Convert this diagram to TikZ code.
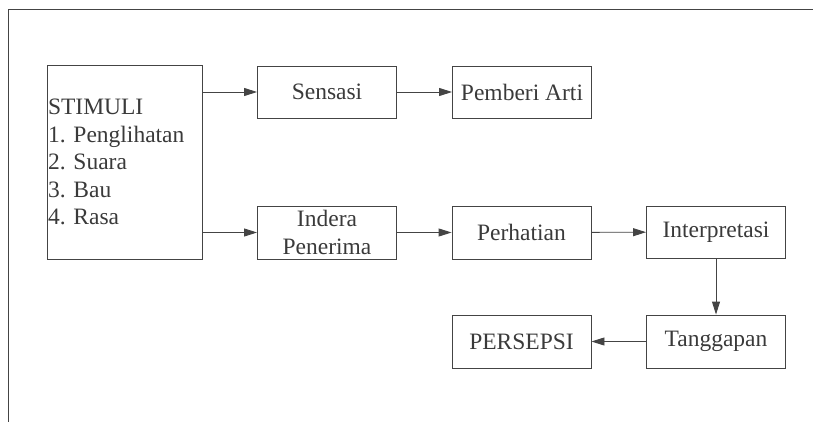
\documentclass[tikz,border=0pt]{standalone}
\usepackage{fontspec}
\setmainfont{Liberation Serif}
\usetikzlibrary{arrows.meta}
\definecolor{ink}{HTML}{444444}
\definecolor{txt}{HTML}{3A3A3A}
\frenchspacing
\begin{document}
\begin{tikzpicture}[x=1pt,y=-1pt,
  box/.style={draw=ink,line width=0.9pt,rectangle,inner sep=0pt,text=txt,align=center,
    font=\fontsize{23.5}{28}\selectfont,minimum width=139pt,minimum height=52pt},
  conn/.style={draw=ink,line width=0.9pt,-{Triangle[length=13pt,width=8pt]}}]
\useasboundingbox (0,0) rectangle (813,422);
\draw[ink,line width=0.9pt] (8,422) coordinate (fl) -- (8,9) coordinate (fc) -- (813,9) coordinate (fr);
\node[box,minimum width=155pt,minimum height=194pt,text width=153pt,align=left,inner xsep=1pt,
  font=\fontsize{23.5}{27.6}\selectfont] (stim) at (124.5,162)
  {STIMULI\\1. Penglihatan\\2. Suara\\3. Bau\\4. Rasa};
\node[box] (sens) at (327,92) {Sensasi};
\node[box] (arti) at (522,92) {Pemberi Arti};
\node[box,minimum height=53pt] (ind) at (327,232.5) {Indera\\Penerima};
\node[box,minimum height=53pt] (perh) at (521.5,232.5) {Perhatian};
\node[box] (interp) at (716,232) {Interpretasi};
\node[box,minimum height=53pt] (tang) at (716,341.5) {Tanggapan};
\node[box,minimum height=53pt] (pers) at (521.5,341.5) {PERSEPSI};
\draw[conn] (stim.east |- sens) -- (sens);
\draw[conn] (sens) -- (arti);
\draw[conn] (stim.east |- ind) -- (ind);
\draw[conn] (ind) -- (perh);
\draw[conn] (perh) -- (interp);
\draw[conn] (interp) -- (tang);
\draw[conn] (tang) -- (pers);
\end{tikzpicture}
\end{document}
